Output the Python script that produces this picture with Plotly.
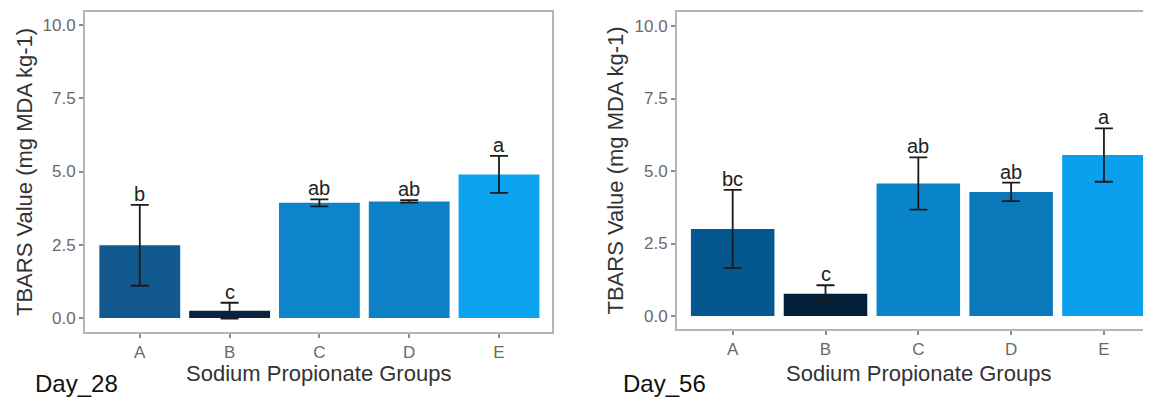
import plotly.graph_objects as go

groups = ["A", "B", "C", "D", "E"]
day28_values = [2.48, 0.25, 3.93, 3.98, 4.90]
day28_errors = [1.38, 0.27, 0.12, 0.04, 0.63]
day28_letters = ["b", "c", "ab", "ab", "a"]
day28_colors = ["#11588F", "#0A2440", "#0E85CB", "#0C81C6", "#0BA2EF"]

day56_values = [3.00, 0.77, 4.57, 4.28, 5.55]
day56_errors = [1.35, 0.29, 0.90, 0.32, 0.92]
day56_letters = ["bc", "c", "ab", "ab", "a"]
day56_colors = ["#05588F", "#03203B", "#0B85CA", "#0A79BA", "#0AA0EE"]

y_ticks = [0, 2.5, 5, 7.5, 10]
y_ticktext = ["0.0", "2.5", "5.0", "7.5", "10.0"]
y_title = "TBARS Value (mg MDA kg-1)"
x_title = "Sodium Propionate Groups"
panel_labels = ["Day_28", "Day_56"]

# page body has an 8px default margin: lay out in window pixels, then shift
OFF = 8
W, H = 1151 - OFF, 399 - OFF
FONT = "Liberation Sans, Arial, sans-serif"


def px(x):
    return (x - OFF) / W


def py(y):
    return 1 - (y - OFF) / H


fig = go.Figure()

panels = [
    dict(vals=day28_values, errs=day28_errors, letters=day28_letters, colors=day28_colors,
         xa="x", ya="y", x0=85, x1=552, xr=[-0.61, 4.59], top=12, bot=332, yr=[-0.478, 10.444],
         ytx=24, xtx=318, lab_x=33),
    dict(vals=day56_values, errs=day56_errors, letters=day56_letters, colors=day56_colors,
         xa="x2", ya="y2", x0=677, x1=1151, xr=[-0.6, 4.507], top=12, bot=329, yr=[-0.448, 10.483],
         ytx=615, xtx=918, lab_x=621),
]

annotations = []
for i, p in enumerate(panels):
    fig.add_trace(go.Bar(
        x=groups, y=p["vals"], width=0.9,
        marker=dict(color=p["colors"], line=dict(width=0)),
        error_y=dict(type="data", array=p["errs"], visible=True,
                     color="#1a1a1a", thickness=1.8, width=9),
        xaxis=p["xa"], yaxis=p["ya"], showlegend=False, hoverinfo="x+y",
    ))
    for g, v, e, t in zip(groups, p["vals"], p["errs"], p["letters"]):
        annotations.append(dict(
            x=g, y=v + e, xref=p["xa"], yref=p["ya"], text=t, showarrow=False,
            yanchor="bottom", yshift=-2,
            font=dict(family=FONT, size=20, color="#222222"),
        ))
    suffix = "" if i == 0 else "2"
    xdom = [max(0, px(p["x0"])), min(1, px(p["x1"]))]
    ydom = [py(p["bot"]), py(p["top"])]
    fig.layout["xaxis" + suffix] = dict(
        domain=xdom, range=p["xr"], type="category", categoryorder="array",
        categoryarray=groups, anchor="y" + suffix,
        showline=True, mirror=True, linecolor="#B5B5B5", linewidth=2,
        ticks="outside", ticklen=4, tickwidth=1.5, tickcolor="#8A8A8A",
        tickfont=dict(family=FONT, size=17, color="#6A6A6A"),
        showgrid=False, zeroline=False, fixedrange=True,
    )
    fig.layout["yaxis" + suffix] = dict(
        domain=ydom, range=p["yr"], anchor="x" + suffix,
        tickvals=y_ticks, ticktext=y_ticktext,
        showline=True, mirror=(i == 0), linecolor="#B5B5B5", linewidth=2,
        ticks="outside", ticklen=4, tickwidth=1.5, tickcolor="#8A8A8A",
        tickfont=dict(family=FONT, size=17, color="#6A6A6A"),
        showgrid=False, zeroline=False, fixedrange=True,
    )
    annotations.append(dict(
        x=px(p["ytx"]), y=py((p["top"] + p["bot"]) / 2), xref="paper", yref="paper",
        text=y_title, textangle=-90, showarrow=False, xanchor="center", yanchor="middle",
        font=dict(family=FONT, size=22, color="#333333"),
    ))
    annotations.append(dict(
        x=px(p["xtx"]), y=py(373), xref="paper", yref="paper",
        text=x_title, showarrow=False, xanchor="center", yanchor="middle",
        font=dict(family=FONT, size=22, color="#333333"),
    ))
    annotations.append(dict(
        x=px(p["lab_x"]), y=py(383), xref="paper", yref="paper",
        text=panel_labels[i], showarrow=False, xanchor="left", yanchor="middle",
        font=dict(family=FONT, size=24, color="#111111"),
    ))

fig.update_layout(
    width=W, height=H, margin=dict(l=0, r=0, t=0, b=0),
    paper_bgcolor="white", plot_bgcolor="white",
    annotations=annotations, bargap=0.1,
)

fig.write_html("out.html")
